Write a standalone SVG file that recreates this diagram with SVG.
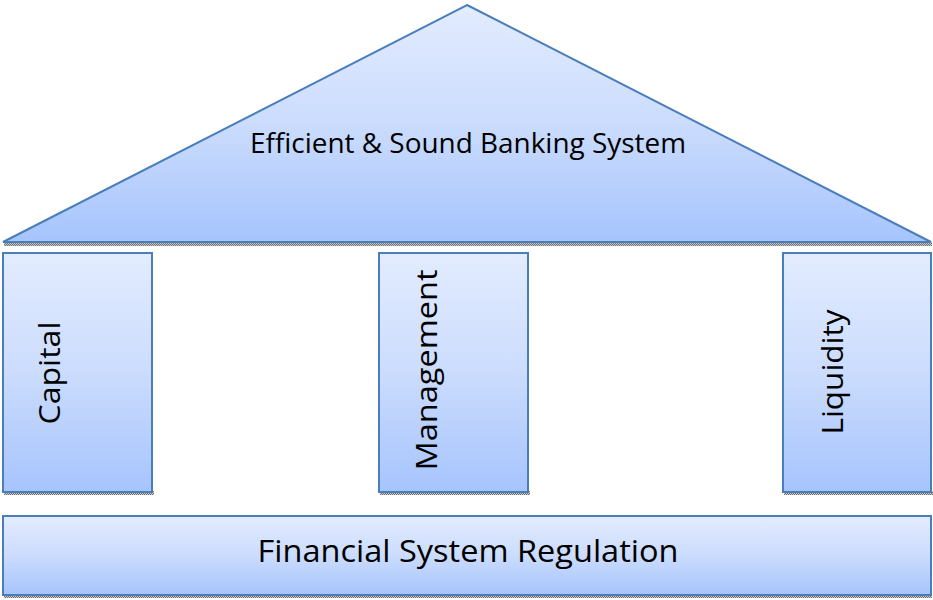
<svg xmlns="http://www.w3.org/2000/svg" width="933" height="600" viewBox="0 0 933 600">
<defs>
<linearGradient id="g" x1="0" y1="0" x2="0" y2="1">
<stop offset="0" stop-color="#e3ecff"/>
<stop offset="0.5" stop-color="#cbdcfd"/>
<stop offset="1" stop-color="#a6c4fd"/>
</linearGradient>
<pattern id="sh" width="2" height="2" patternUnits="userSpaceOnUse">
<rect width="2" height="2" fill="#c8c8c8"/>
<rect width="1" height="1" fill="#707070"/>
<rect x="1" y="1" width="1" height="1" fill="#707070"/>
</pattern>
<style>
.shape{fill:url(#g);stroke:#4a7ebb;stroke-width:2}
.shadow{fill:url(#sh)}
text{font-family:"Open Sans","Liberation Sans",sans-serif;fill:#000}
</style>
</defs>
<g id="roof">
<rect class="shadow" x="4" y="242" width="928" height="4"/>
<polygon class="shape" points="467,5 931,242 3,242"/>
<text x="468" y="153" font-size="27" text-anchor="middle" textLength="436" lengthAdjust="spacingAndGlyphs">Efficient &amp; Sound Banking System</text>
</g>
<g id="capital">
<rect class="shadow" x="4" y="491" width="150" height="4"/>
<rect class="shape" x="3" y="253" width="149" height="239"/>
<text transform="translate(48,373) rotate(-90)" font-size="29" text-anchor="middle" dominant-baseline="central" textLength="103" lengthAdjust="spacingAndGlyphs">Capital</text>
</g>
<g id="management">
<rect class="shadow" x="380" y="491" width="150" height="4"/>
<rect class="shape" x="379" y="253" width="149" height="239"/>
<text transform="translate(425,370) rotate(-90)" font-size="29" text-anchor="middle" dominant-baseline="central" textLength="201" lengthAdjust="spacingAndGlyphs">Management</text>
</g>
<g id="liquidity">
<rect class="shadow" x="784" y="491" width="149" height="4"/>
<rect class="shape" x="783" y="253" width="148" height="239"/>
<text transform="translate(831,372) rotate(-90)" font-size="29" text-anchor="middle" dominant-baseline="central" textLength="125" lengthAdjust="spacingAndGlyphs">Liquidity</text>
</g>
<g id="regulation">
<rect class="shadow" x="4" y="594" width="928" height="4"/>
<rect class="shape" x="3" y="516" width="928" height="79"/>
<text x="468" y="562" font-size="31" text-anchor="middle" textLength="421" lengthAdjust="spacingAndGlyphs">Financial System Regulation</text>
</g>
<g id="connectors"/>
</svg>
